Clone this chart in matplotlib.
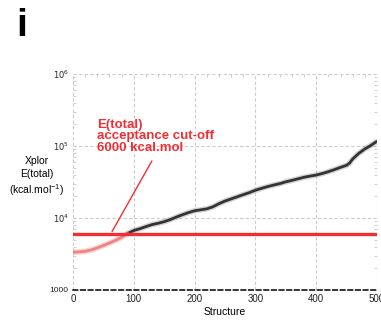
import matplotlib
matplotlib.use("Agg")
import matplotlib.pyplot as plt
from matplotlib.ticker import FixedLocator, FuncFormatter, LogLocator, MultipleLocator
import numpy as np

plt.rcParams['font.family'] = ['Liberation Sans', 'DejaVu Sans']

# Sorted Xplor total energies per structure (kcal/mol)
structure = [0, 10, 20, 30, 40, 50, 60, 70, 80, 90,
             100, 110, 120, 130, 140, 150, 160, 170, 180, 190,
             200, 210, 220, 230, 240, 250, 260, 270, 280, 290,
             300, 310, 320, 330, 340, 350, 360, 370, 380, 390,
             400, 410, 420, 430, 440, 450, 455, 460, 470, 480, 490, 499]
energy = [3350, 3380, 3450, 3600, 3850, 4150, 4500, 4900, 5400, 6100,
          6700, 7100, 7600, 8100, 8450, 8900, 9500, 10300, 11100, 11900,
          12600, 13000, 13400, 14300, 15800, 17200, 18400, 19700, 21100, 22500,
          24300, 25800, 27300, 28700, 30000, 31800, 33300, 35000, 36800, 38200,
          39500, 41500, 44000, 47000, 50500, 54000, 58000, 66000, 79000, 91000, 102000, 115000]
cutoff = 6000
annotation_text = "E(total)\nacceptance cut-off\n6000 kcal.mol"
pointer_from = (132, 67000)
pointer_to = (62, 6000)

fig = plt.figure(figsize=(3.81, 3.25), dpi=100)
ax = fig.add_axes([0.1916, 0.1077, 0.7979, 0.6646])

x = np.array(structure, dtype=float)
y = np.array(energy, dtype=float)
below = y <= cutoff * 1.02
above = y >= cutoff * 0.98

# Accepted / rejected parts of the energy profile
ax.plot(x[above], y[above], color='#a0a0a0', lw=4.0, alpha=0.45, solid_capstyle='round', zorder=3)
ax.plot(x[above], y[above], color='#333333', lw=2.0, solid_capstyle='round', zorder=4)
ax.plot(x[below], y[below], color='#f6b0b0', lw=4.0, alpha=0.55, solid_capstyle='round', zorder=3)
ax.plot(x[below], y[below], color='#ec7070', lw=2.0, alpha=0.8, solid_capstyle='round', zorder=4)

ax.axhline(cutoff, color='#ee3035', lw=2.4, zorder=5)

ax.set_yscale('log')
ax.set_xlim(0, 500)
ax.set_ylim(1000, 1e6)

ax.yaxis.set_major_locator(FixedLocator([1e3, 1e4, 1e5, 1e6]))
ax.yaxis.set_minor_locator(LogLocator(base=10, subs=np.arange(2, 10)))
ax.yaxis.set_major_formatter(FuncFormatter(
    lambda v, p: "1000" if abs(v - 1000) < 1 else r"$10^{%d}$" % round(np.log10(v))))
ax.yaxis.set_minor_formatter(FuncFormatter(lambda v, p: ""))
ax.xaxis.set_major_locator(MultipleLocator(100))
ax.xaxis.set_minor_locator(MultipleLocator(20))

ax.grid(True, which='major', color='#cccccc', ls=(0, (3, 2)), lw=0.8)
for s in ['left', 'right', 'top']:
    ax.spines[s].set_visible(False)
ax.spines['bottom'].set_color('black')
ax.spines['bottom'].set_linestyle((0, (3, 2)))
ax.spines['bottom'].set_linewidth(1.1)

ax.tick_params(axis='both', which='major', length=0, labelsize=6.5, colors='#222222', pad=3)
ax.tick_params(axis='y', which='major', labelsize=6)
ax.tick_params(axis='y', which='minor', length=2.5, width=0.6, color='#c8c8c8',
               left=True, right=True, direction='in')
ax.tick_params(axis='x', which='minor', length=2.5, width=0.6, color='#c8c8c8',
               bottom=False, top=True, direction='in')
ax.tick_params(axis='x', which='major', labelsize=7)

ax.set_xlabel("Structure", fontsize=7.5, labelpad=2)
fig.text(0.097, 0.455, "Xplor\nE(total)\n(kcal.mol$^{\\mathregular{-1}}$)", ha='center', va='center',
         fontsize=7.5, linespacing=1.3)

ax.annotate("", xy=pointer_to, xytext=pointer_from,
            arrowprops=dict(arrowstyle='-', color='#ee3035', lw=1.0), zorder=6)
ax.text(40, 2.4e5, annotation_text, color='#ee3035', fontsize=9.5, fontweight='bold',
        ha='left', va='top', linespacing=0.95, zorder=6)

fig.text(0.043, 0.975, "i", fontsize=28, fontweight='bold', ha='left', va='top')

fig.savefig("out.png", dpi=100)
